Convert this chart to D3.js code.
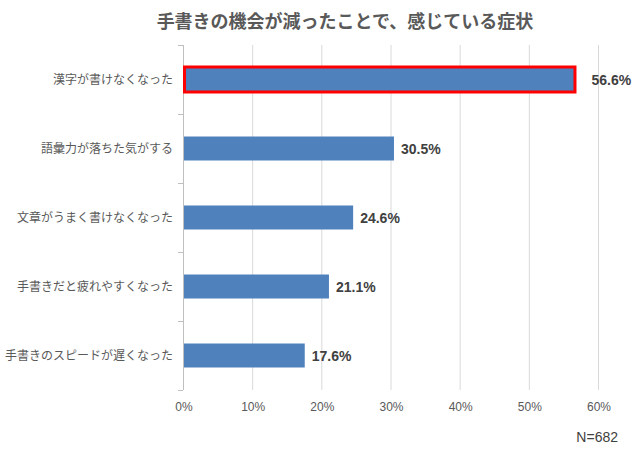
<!DOCTYPE html>
<html><head><meta charset="utf-8">
<script src="https://cdn.jsdelivr.net/npm/d3@7"></script>
<style>body{margin:0;background:#fff;}</style>
</head><body><svg id="c" width="640" height="452"></svg>
<script>
const categories = ["漢字が書けなくなった","語彙力が落ちた気がする","文章がうまく書けなくなった","手書きだと疲れやすくなった","手書きのスピードが遅くなった"];
const values = [56.6, 30.5, 24.6, 21.1, 17.6];
const tickValues = [0,10,20,30,40,50,60];
const highlighted = ["漢字が書けなくなった"];
const title = "手書きの機会が減ったことで、感じている症状";
const note = "N=682";

const JP = "'Noto Sans CJK JP', 'Noto Sans', sans-serif";
const LAT = "'Liberation Sans', Arial, sans-serif";
const svg = d3.select("#c");
const pL = 183, pR = 598, pT = 45, pB = 390;
const x = d3.scaleLinear().domain([0,60]).range([pL,pR]);
const y = d3.scaleBand().domain(categories).range([pT,pB]).padding(0);
const barH = 24;

// gridlines
svg.append("g").selectAll("line").data(tickValues.slice(1)).join("line")
  .attr("x1",d=>x(d)+0.5).attr("x2",d=>x(d)+0.5).attr("y1",pT).attr("y2",pB)
  .attr("stroke","#d9d9d9").attr("stroke-width",1);

// y axis line and ticks
svg.append("line").attr("x1",pL+0.5).attr("x2",pL+0.5).attr("y1",pT).attr("y2",pB)
  .attr("stroke","#bfbfbf");
const bounds = categories.map(c=>y(c)).concat([pB]);
svg.append("g").selectAll("line").data(bounds).join("line")
  .attr("x1",pL-5).attr("x2",pL).attr("y1",d=>Math.round(d)+0.5).attr("y2",d=>Math.round(d)+0.5)
  .attr("stroke","#bfbfbf");

// bars
svg.append("g").selectAll("rect").data(values).join("rect")
  .attr("x",x(0)+1)
  .attr("y",(d,i)=>y(categories[i])+y.bandwidth()/2-barH/2)
  .attr("width",d=>x(d)-x(0)-1)
  .attr("height",barH)
  .attr("fill","#4f81bd");

// highlight border
svg.append("g").selectAll("rect").data(highlighted).join("rect")
  .attr("x",x(0)+1.5)
  .attr("y",d=>y(d)+y.bandwidth()/2-barH/2-0.5)
  .attr("width",d=>x(values[categories.indexOf(d)])-x(0)-1)
  .attr("height",barH+1)
  .attr("fill","none").attr("stroke","#ff0000").attr("stroke-width",3);

// value labels
svg.append("g").selectAll("text").data(values).join("text")
  .attr("x",(d,i)=>x(d)+(highlighted.includes(categories[i])?17:7))
  .attr("y",(d,i)=>y(categories[i])+y.bandwidth()/2)
  .attr("dy","0.36em")
  .style("font-family",LAT).style("font-size","14px").style("font-weight","bold")
  .attr("fill","#404040")
  .text(d=>d.toFixed(1)+"%");

// category labels
svg.append("g").selectAll("text").data(categories).join("text")
  .attr("x",173).attr("y",d=>y(d)+y.bandwidth()/2)
  .attr("dy","0.36em").attr("text-anchor","end")
  .style("font-family",JP).style("font-size","12px").attr("fill","#595959")
  .text(d=>d);

// x tick labels
svg.append("g").selectAll("text").data(tickValues).join("text")
  .attr("x",d=>x(d)+1).attr("y",407).attr("dy","0.36em").attr("text-anchor","middle")
  .style("font-family",LAT).style("font-size","12px").attr("fill","#595959")
  .text(d=>d+"%");

// title
svg.append("text").attr("x",345).attr("y",22).attr("dy","0.36em").attr("text-anchor","middle")
  .style("font-family",JP).style("font-size","18px").style("font-weight","bold")
  .attr("fill","#595959").text(title);

// note
svg.append("text").attr("x",618).attr("y",437).attr("dy","0.36em").attr("text-anchor","end")
  .style("font-family",LAT).style("font-size","14px").attr("fill","#404040").text(note);
</script></body></html>
